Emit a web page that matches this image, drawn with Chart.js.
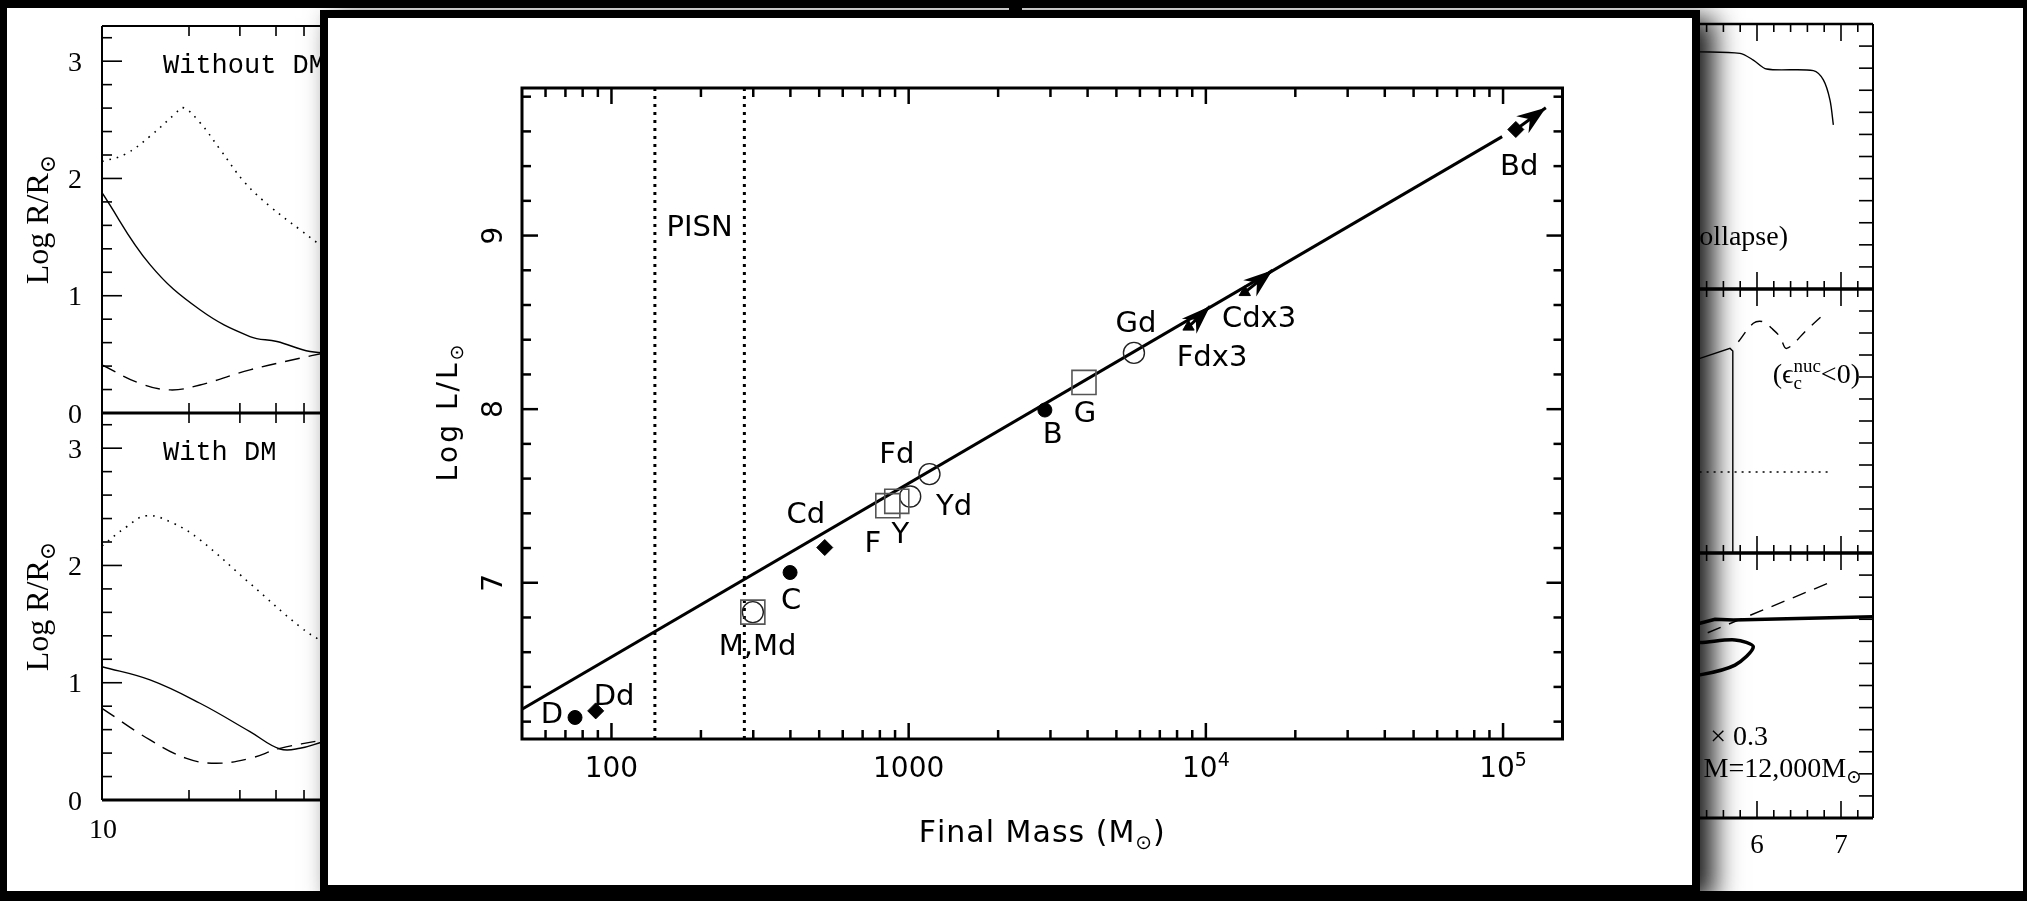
<!DOCTYPE html>
<html>
<head>
<meta charset="utf-8">
<title>Final mass vs luminosity</title>
<script src="https://cdn.jsdelivr.net/npm/chart.js@4.4.1/dist/chart.umd.min.js"></script>
<style>
  html, body { margin: 0; padding: 0; }
  body { width: 2027px; height: 901px; background: #000; position: relative; overflow: hidden; }
  #slide { position: absolute; left: 7px; top: 8px; width: 2016px; height: 883px; background: #fff; }
  .pane { position: absolute; }
  #divider { position: absolute; left: 1009px; top: 0; width: 13px; height: 901px; background: #000; }
  #overlay { position: absolute; left: 320px; top: 10px; width: 1364px; height: 867px; border: 8px solid #000; background: #fff; box-shadow: 14px 8px 26px rgba(0, 0, 0, 0.9); }
  #main-wrap { position: absolute; left: 0; top: 0; width: 1364px; height: 867px; }
</style>
</head>
<body>
<div id="slide"></div>
<div class="pane" style="left:0;top:0;width:350px;height:430px"><canvas id="left-top"></canvas></div>
<div class="pane" style="left:0;top:400px;width:350px;height:460px"><canvas id="left-bottom"></canvas></div>
<div class="pane" style="left:1590px;top:0;width:437px;height:300px"><canvas id="right-top"></canvas></div>
<div class="pane" style="left:1590px;top:280px;width:437px;height:285px"><canvas id="right-mid"></canvas></div>
<div class="pane" style="left:1590px;top:544px;width:437px;height:330px"><canvas id="right-bottom"></canvas></div>
<div id="divider"></div>
<div id="overlay"><div id="main-wrap"><canvas id="mass-chart"></canvas></div></div>
<script>
// ---- main figure: final mass vs luminosity ----
const massAxisMin = 50;
const massAxisMax = 158500;
const logLAxisMin = 6.1;
const logLAxisMax = 9.85;

const massTickValues = [100, 1000, 10000, 100000];
const massTickLabels = ['100', '1000', '10^{4}', '10^{5}'];
const logLTickValues = [7, 8, 9];
const logLTickLabels = ['7', '8', '9'];

// L proportional to M
const fitLineMass = [50, 99300];
const fitLineLogL = [6.272, 9.570];

// PISN window
const pisnMass = [140, 280];

// models, grouped by symbol
const filledCircleMass = [75.4, 399, 2873];          // D, C, B
const filledCircleLogL = [6.224, 7.059, 7.995];
const diamondMass = [88.5, 522, 110400];             // Dd, Cd, Bd
const diamondLogL = [6.262, 7.203, 9.611];
const squareMass = [299, 851, 912, 3890];            // M, F, Y, G
const squareLogL = [6.831, 7.444, 7.469, 8.154];
const openCircleMass = [299, 1012, 1175, 5728];      // Md, Fd, Yd, Gd
const openCircleLogL = [6.831, 7.497, 7.626, 8.324];
const triangleMass = [8744, 13520];                  // Fdx3, Cdx3
const triangleLogL = [8.474, 8.673];

// still growing -> arrows
const arrowFromMass = [8744, 13520, 110400];
const arrowFromLogL = [8.474, 8.673, 9.611];
const arrowToMass = [10330, 16750, 139300];
const arrowToLogL = [8.593, 8.800, 9.736];

const pointLabels = ['D', 'Dd', 'M,Md', 'C', 'Cd', 'F', 'Y', 'Fd', 'Yd', 'B', 'G', 'Gd', 'Fdx3', 'Cdx3', 'Bd', 'PISN'];
const pointLabelMass = [63, 102, 310, 402, 451, 757, 938, 912, 1422, 3055, 3917, 5823, 10490, 15100, 113300, 198];
const pointLabelLogL = [6.251, 6.354, 6.643, 6.908, 7.403, 7.238, 7.288, 7.749, 7.450, 7.866, 7.987, 8.506, 8.308, 8.535, 9.409, 9.058];

// ---- background, left: radius panels ----
const radiusTickValues = [0, 1, 2, 3];
const radiusTickLabels = ['0', '1', '2', '3'];

const noDmDottedX = [10, 12.0, 14.66, 17.89, 19.06, 21.83, 25.6, 31.25, 38.1, 48.4, 58.2, 66];
const noDmDottedY = [2.145, 2.205, 2.36, 2.55, 2.604, 2.476, 2.248, 1.963, 1.763, 1.564, 1.421, 1.37];
const noDmSolidX = [10, 14.66, 21.83, 32.5, 40.3, 52.5, 66];
const noDmSolidY = [1.878, 1.265, 0.88, 0.652, 0.61, 0.524, 0.51];
const noDmDashedX = [10, 13.5, 17.2, 21.83, 32.5, 48.4, 58.2, 66];
const noDmDashedY = [0.41, 0.254, 0.197, 0.239, 0.368, 0.467, 0.51, 0.54];

const dmDottedX = [10, 12.17, 14.28, 17.65, 21.83, 32.5, 48.4, 58.2, 66];
const dmDottedY = [2.167, 2.33, 2.424, 2.36, 2.218, 1.847, 1.478, 1.35, 1.30];
const dmSolidX = [10, 14.66, 21.83, 32.5, 41.3, 48.4, 58.2, 66];
const dmSolidY = [1.137, 1.024, 0.825, 0.583, 0.435, 0.441, 0.497, 0.53];
const dmDashedX = [10, 14.66, 19.6, 24.9, 32.5, 41.3, 58.2, 66];
const dmDashedY = [0.782, 0.512, 0.355, 0.313, 0.355, 0.44, 0.512, 0.54];

// ---- background, right: central quantities ----
const collapseX = [4.4, 5.321, 5.798, 5.956, 6.115, 6.671, 6.790, 6.869, 6.909];
const collapseY = [0.90, 0.895, 0.889, 0.864, 0.830, 0.824, 0.789, 0.713, 0.619];

const midDashedX = [5.778, 5.956, 6.075, 6.175, 6.274, 6.353, 6.592, 6.829];
const midDashedY = [0.800, 0.870, 0.876, 0.851, 0.819, 0.775, 0.845, 0.914];
const midSolidX = [4.4, 5.321, 5.679, 5.712, 5.712];
const midSolidY = [0.70, 0.737, 0.775, 0.765, 0];
const midDottedX = [4.4, 6.869];
const midDottedY = [0.307, 0.307];

const botThickX = [4.4, 5.321, 5.5, 5.718, 7.381];
const botThickY = [0.70, 0.735, 0.750, 0.747, 0.759];
const botLoopX = [4.4, 5.321, 5.738, 5.956, 5.738, 5.321, 4.4];
const botLoopY = [0.66, 0.662, 0.672, 0.646, 0.577, 0.540, 0.50];
const botDashedX = [4.4, 5.321, 6.909];
const botDashedY = [0.567, 0.687, 0.894];

const rightTickValues = [6, 7];
const rightTickLabels = ['6', '7'];

const SANS = '"DejaVu Sans", "Liberation Sans", Arial, sans-serif';
const SERIF = '"Liberation Serif", "DejaVu Serif", serif';
const MONO = '"Liberation Mono", "DejaVu Sans Mono", monospace';

const pts = (xs, ys) => xs.map((x, i) => ({ x, y: ys[i] }));

function seg(ctx, x1, y1, x2, y2) {
    ctx.beginPath();
    ctx.moveTo(x1, y1);
    ctx.lineTo(x2, y2);
    ctx.stroke();
}

// width / draw of a run, with optional extra spacing between letters
function runWidth(ctx, t, spacing) {
    if (!spacing) return ctx.measureText(t).width;
    let w = 0;
    for (const ch of t) w += ctx.measureText(ch).width + spacing;
    return w;
}

function drawRun(ctx, t, x, y, spacing) {
    if (!spacing) { ctx.fillText(t, x, y); return; }
    for (const ch of t) {
        ctx.fillText(ch, x, y);
        x += ctx.measureText(ch).width + spacing;
    }
}

// text with _{sub} and ^{sup}
function richText(ctx, str, x, y, size, family, align, spacing) {
    const parts = [];
    const re = /([_^])\{([^}]*)\}/g;
    let last = 0, m;
    while ((m = re.exec(str)) !== null) {
        if (m.index > last) parts.push({ t: str.slice(last, m.index), k: '' });
        parts.push({ t: m[2], k: m[1] });
        last = re.lastIndex;
    }
    if (last < str.length) parts.push({ t: str.slice(last), k: '' });
    const small = Math.round(size * 0.68);
    let cursor = 0, subStart = 0, subW = 0;
    parts.forEach((p, i) => {
        ctx.font = (p.k ? small : size) + 'px ' + family;
        p.w = runWidth(ctx, p.t, spacing);
        if (p.k === '^' && i > 0 && parts[i - 1].k === '_') {
            p.x = subStart;
            cursor = subStart + Math.max(subW, p.w);
        } else {
            p.x = cursor;
            if (p.k === '_') { subStart = cursor; subW = p.w; }
            cursor += p.w;
        }
    });
    const x0 = align === 'center' ? x - cursor / 2 : align === 'right' ? x - cursor : x;
    ctx.textAlign = 'left';
    ctx.textBaseline = 'alphabetic';
    parts.forEach(p => {
        ctx.font = (p.k ? small : size) + 'px ' + family;
        const dy = p.k === '^' ? -size * 0.4 : p.k === '_' ? size * 0.22 : 0;
        drawRun(ctx, p.t, x0 + p.x, y + dy, spacing);
    });
}

function rotatedText(ctx, str, cx, cy, size, family, spacing) {
    ctx.save();
    ctx.translate(cx, cy);
    ctx.rotate(-Math.PI / 2);
    richText(ctx, str, 0, size * 0.36, size, family, 'center', spacing);
    ctx.restore();
}

function arrowHead(ctx, x1, y1, x2, y2, len, half) {
    const d = Math.hypot(x2 - x1, y2 - y1);
    const ux = (x2 - x1) / d, uy = (y2 - y1) / d;
    const bx = x2 - ux * len, by = y2 - uy * len;
    ctx.beginPath();
    ctx.moveTo(x2, y2);
    ctx.lineTo(bx - uy * half, by + ux * half);
    ctx.lineTo(x2 - ux * len * 0.68, y2 - uy * len * 0.68);
    ctx.lineTo(bx + uy * half, by - ux * half);
    ctx.closePath();
    ctx.fill();
}

function baseOptions(padding, xScale, yScale) {
    return {
        responsive: true,
        maintainAspectRatio: false,
        animation: false,
        events: [],
        layout: { padding },
        plugins: { legend: { display: false }, tooltip: { enabled: false } },
        scales: { x: Object.assign({ display: false }, xScale), y: Object.assign({ display: false }, yScale) }
    };
}

function curve(xs, ys, width, dash, tension) {
    return {
        data: pts(xs, ys), showLine: true, borderColor: '#000', borderWidth: width,
        borderDash: dash || [], pointRadius: 0, tension: tension === undefined ? 0.4 : tension
    };
}

// ---- main chart ----
const massFrame = {
    id: 'massFrame',
    afterDatasetsDraw(chart) {
        const { ctx, chartArea: a, scales: { x, y } } = chart;
        ctx.save();
        ctx.strokeStyle = '#000';
        ctx.fillStyle = '#000';

        arrowFromMass.forEach((m, i) => {
            arrowHead(ctx, x.getPixelForValue(m), y.getPixelForValue(arrowFromLogL[i]),
                x.getPixelForValue(arrowToMass[i]), y.getPixelForValue(arrowToLogL[i]), 29, 10.5);
        });

        ctx.lineWidth = 3;
        ctx.strokeRect(a.left, a.top, a.right - a.left, a.bottom - a.top);

        // inward ticks, all four sides
        ctx.lineWidth = 2.5;
        for (let e = 1; e <= 5; e++) {
            for (let k = 1; k <= 9; k++) {
                const v = k * Math.pow(10, e);
                if (v <= x.min || v >= x.max) continue;
                const px = x.getPixelForValue(v), len = k === 1 ? 16 : 9;
                seg(ctx, px, a.bottom, px, a.bottom - len);
                seg(ctx, px, a.top, px, a.top + len);
            }
        }
        for (let i = 31; i <= 49; i++) {
            const py = y.getPixelForValue(i / 5), len = i % 5 === 0 ? 16 : 9;
            seg(ctx, a.left, py, a.left + len, py);
            seg(ctx, a.right, py, a.right - len, py);
        }

        massTickValues.forEach((v, i) => {
            richText(ctx, massTickLabels[i], x.getPixelForValue(v), a.bottom + 38, 28, SANS, 'center');
        });
        logLTickValues.forEach((v, i) => {
            rotatedText(ctx, logLTickLabels[i], a.left - 30, y.getPixelForValue(v), 28, SANS);
        });

        richText(ctx, 'Final Mass (M_{⊙})', (a.left + a.right) / 2, a.bottom + 103, 30, SANS, 'center', 1);
        rotatedText(ctx, 'Log L/L_{⊙}', a.left - 75, (a.top + a.bottom) / 2 - 2, 28, SANS, 3);

        pointLabels.forEach((t, i) => {
            richText(ctx, t, x.getPixelForValue(pointLabelMass[i]), y.getPixelForValue(pointLabelLogL[i]) + 10.5, 29, SANS, 'center');
        });
        ctx.restore();
    }
};

const mainDatasets = [
    { data: pts(filledCircleMass, filledCircleLogL), pointStyle: 'circle', pointRadius: 7, backgroundColor: '#000', borderColor: '#000', borderWidth: 1 },
    { data: pts(diamondMass, diamondLogL), pointStyle: 'rectRot', pointRadius: 8, backgroundColor: '#000', borderColor: '#000', borderWidth: 1 },
    { data: pts(triangleMass, triangleLogL), pointStyle: 'triangle', pointRadius: 6.5, backgroundColor: '#000', borderColor: '#000', borderWidth: 1 },
    { data: pts(squareMass, squareLogL), pointStyle: 'rect', pointRadius: 17, backgroundColor: 'rgba(0,0,0,0)', borderColor: '#555', borderWidth: 1.6 },
    { data: pts(openCircleMass, openCircleLogL), pointStyle: 'circle', pointRadius: 10.5, backgroundColor: 'rgba(0,0,0,0)', borderColor: '#222', borderWidth: 1.4 },
    curve(fitLineMass, fitLineLogL, 3, null, 0),
    ...pisnMass.map(m => curve([m, m], [logLAxisMin, logLAxisMax], 3, [3, 5], 0)),
    ...arrowFromMass.map((m, i) => curve([m, arrowToMass[i]], [arrowFromLogL[i], arrowToLogL[i]], 3, null, 0))
];

new Chart(document.getElementById('mass-chart'), {
    type: 'scatter',
    data: { datasets: mainDatasets },
    options: baseOptions({ left: 194, right: 129.5, top: 70, bottom: 146 },
        { type: 'logarithmic', min: massAxisMin, max: massAxisMax },
        { type: 'linear', min: logLAxisMin, max: logLAxisMax }),
    plugins: [massFrame]
});

// ---- left background panels ----
function radiusFrame(title, showBottomLabel) {
    return {
        id: 'radiusFrame',
        afterDatasetsDraw(chart) {
            const { ctx, chartArea: a, scales: { x, y } } = chart;
            ctx.save();
            ctx.strokeStyle = '#000';
            ctx.fillStyle = '#000';
            ctx.lineWidth = 2;
            seg(ctx, a.left, a.top, a.left, a.bottom);
            seg(ctx, a.left, a.top, a.right, a.top);
            ctx.lineWidth = 3;
            seg(ctx, a.left, a.bottom, a.right, a.bottom);
            ctx.lineWidth = 1.6;
            for (let i = 1; i <= 16; i++) {
                const v = i / 5;
                if (v > y.max) break;
                const py = y.getPixelForValue(v);
                seg(ctx, a.left, py, a.left + (i % 5 === 0 ? 20 : 10), py);
            }
            for (let k = 2; k <= 6; k++) {
                const px = x.getPixelForValue(k * 10);
                seg(ctx, px, a.bottom, px, a.bottom - 10);
                seg(ctx, px, a.top, px, a.top + 10);
            }
            radiusTickValues.forEach((v, i) => {
                richText(ctx, radiusTickLabels[i], a.left - 27, y.getPixelForValue(v) + 9.5, 28, SERIF, 'center');
            });
            rotatedText(ctx, 'Log R/R_{⊙}', a.left - 66, (a.top + a.bottom) / 2, 32, SERIF);
            richText(ctx, title, a.left + 61, a.top + 47, 27, MONO, 'left');
            if (showBottomLabel) richText(ctx, '10', a.left + 1, a.bottom + 38, 28, SERIF, 'center');
            ctx.restore();
        }
    };
}

function radiusPanel(id, title, series, padding, showBottomLabel) {
    new Chart(document.getElementById(id), {
        type: 'scatter',
        data: { datasets: series },
        options: baseOptions(padding, { type: 'logarithmic', min: 10, max: 66.6 }, { type: 'linear', min: 0, max: 3.3 }),
        plugins: [radiusFrame(title, showBottomLabel)]
    });
}

radiusPanel('left-top', 'Without DM', [
    curve(noDmSolidX, noDmSolidY, 1.4),
    curve(noDmDashedX, noDmDashedY, 1.4, [15, 9]),
    curve(noDmDottedX, noDmDottedY, 1.6, [1.6, 6])
], { left: 102, right: 10, top: 26, bottom: 17 }, false);

radiusPanel('left-bottom', 'With DM', [
    curve(dmSolidX, dmSolidY, 1.4),
    curve(dmDashedX, dmDashedY, 1.4, [15, 9]),
    curve(dmDottedX, dmDottedY, 1.6, [1.6, 6])
], { left: 102, right: 10, top: 13, bottom: 60 }, true);

// ---- right background panels ----
function centralFrame(texts, topWidth, showBottomLabels) {
    return {
        id: 'centralFrame',
        afterDatasetsDraw(chart) {
            const { ctx, chartArea: a, scales: { x, y } } = chart;
            ctx.save();
            ctx.strokeStyle = '#000';
            ctx.fillStyle = '#000';
            ctx.lineWidth = 2;
            seg(ctx, a.right, a.top, a.right, a.bottom);
            ctx.lineWidth = topWidth;
            seg(ctx, a.left, a.top, a.right, a.top);
            ctx.lineWidth = 3;
            seg(ctx, a.left, a.bottom, a.right, a.bottom);
            ctx.lineWidth = 1.6;
            for (let i = 22; i <= 36; i++) {
                const px = x.getPixelForValue(i / 5), len = i % 5 === 0 ? 17 : 8;
                seg(ctx, px, a.bottom, px, a.bottom - len);
                seg(ctx, px, a.top, px, a.top + len);
            }
            for (let i = 1; i <= 11; i++) {
                const py = y.getPixelForValue(i / 12);
                seg(ctx, a.right, py, a.right - 14, py);
            }
            texts.forEach(t => {
                richText(ctx, t.text, x.getPixelForValue(t.x), y.getPixelForValue(t.y) + 10, 28, SERIF, 'right');
            });
            if (showBottomLabels) {
                rightTickValues.forEach((v, i) => {
                    richText(ctx, rightTickLabels[i], x.getPixelForValue(v), a.bottom + 35, 27, SERIF, 'center');
                });
            }
            ctx.restore();
        }
    };
}

function centralPanel(id, series, texts, padding, topWidth, showBottomLabels) {
    new Chart(document.getElementById(id), {
        type: 'scatter',
        data: { datasets: series },
        options: baseOptions(padding, { type: 'linear', min: 4.25, max: 7.381 }, { type: 'linear', min: 0, max: 1 }),
        plugins: [centralFrame(texts, topWidth, showBottomLabels)]
    });
}

centralPanel('right-top', [curve(collapseX, collapseY, 1.4, null, 0.3)],
    [{ text: '(Collapse)', x: 6.369, y: 0.204 }],
    { left: 20, right: 154, top: 24, bottom: 11 }, 2.5, false);

centralPanel('right-mid', [
    curve(midSolidX, midSolidY, 1.4, null, 0),
    curve(midDashedX, midDashedY, 1.4, [12, 9], 0.35),
    curve(midDottedX, midDottedY, 1.4, [2, 5], 0)
], [{ text: '(ϵ_{c}^{nuc}<0)', x: 7.226, y: 0.682 }],
    { left: 20, right: 154, top: 9, bottom: 12 }, 3, false);

centralPanel('right-bottom', [
    curve(botThickX, botThickY, 3.5, null, 0),
    curve(botLoopX, botLoopY, 3.5, null, 0.3),
    curve(botDashedX, botDashedY, 1.4, [14, 9], 0)
], [
    { text: '× 0.3', x: 6.131, y: 0.313 },
    { text: 'M=12,000M_{⊙}', x: 7.25, y: 0.194 }
], { left: 20, right: 154, top: 9, bottom: 56 }, 3, true);
</script>
</body>
</html>
